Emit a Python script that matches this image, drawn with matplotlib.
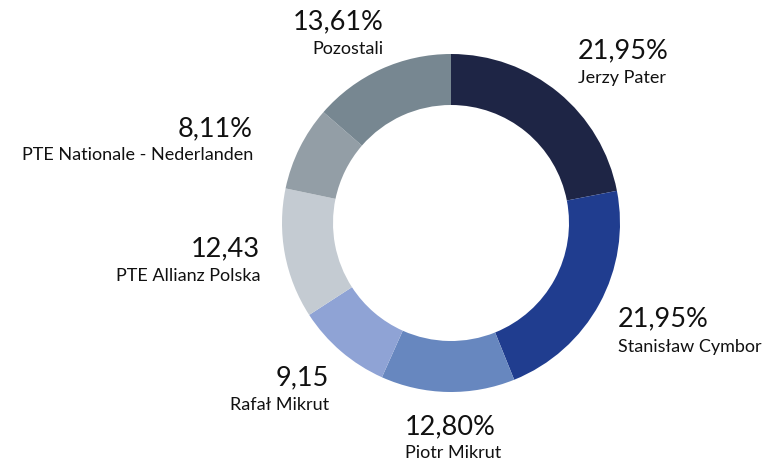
import matplotlib
matplotlib.use("Agg")
import matplotlib.pyplot as plt

names = ["Jerzy Pater", "Stanisław Cymbor", "Piotr Mikrut", "Rafał Mikrut",
         "PTE Allianz Polska", "PTE Nationale - Nederlanden", "Pozostali"]
values = [21.95, 21.95, 12.80, 9.15, 12.43, 8.11, 13.61]
value_labels = ["21,95%", "21,95%", "12,80%", "9,15", "12,43", "8,11%", "13,61%"]
colors = ["#1e2545", "#203d8f", "#6787bf", "#8fa3d5", "#c4cbd2", "#939ea6", "#778791"]

W, H = 773, 463
fig = plt.figure(figsize=(W / 100, H / 100), dpi=100)
ax = fig.add_axes([0, 0, 1, 1])
ax.pie(values, colors=colors, startangle=90, counterclock=False,
       center=(451, H - 223), radius=169,
       wedgeprops=dict(width=51, edgecolor="none"))
ax.set_xlim(0, W)
ax.set_ylim(0, H)
ax.set_aspect("equal")
ax.axis("off")

# label anchor positions (x, y of value text, y of name text, alignment)
pos = [
    (578, 51, 78, "left"),
    (618, 319, 347, "left"),
    (405, 427, 453, "left"),
    (329, 378, 405, "right"),
    (260, 249, 276, "right"),
    (253, 129, 155, "right"),
    (384, 22, 49, "right"),
]
font = "Lato"
for (x, yv, yn, ha), vl, nm in zip(pos, value_labels, names):
    ax.text(x, H - yv, vl, ha=ha, va="center", fontsize=19.5, family=font, color="#111111")
    ax.text(x, H - yn, nm, ha=ha, va="center", fontsize=13, family=font, color="#111111")

fig.savefig("out.png", dpi=100)
